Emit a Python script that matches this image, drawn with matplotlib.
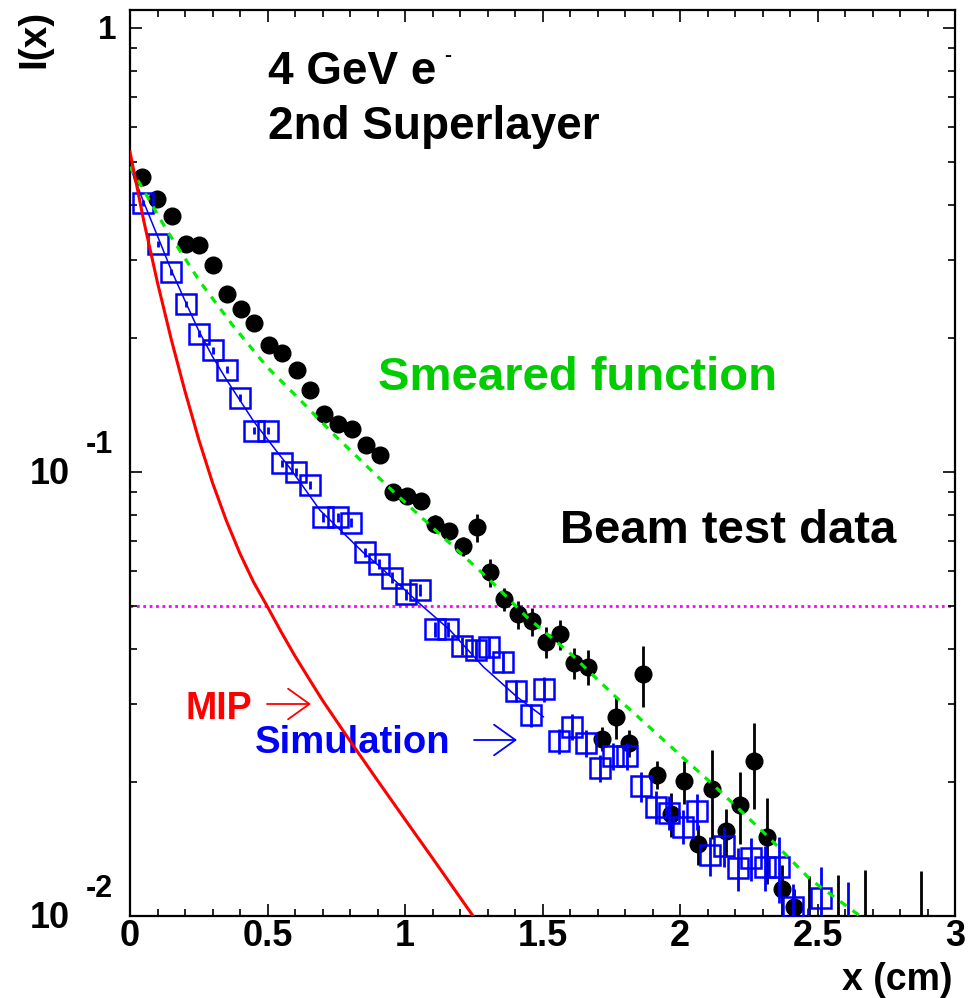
import matplotlib
matplotlib.use("Agg")
import matplotlib.pyplot as plt
import numpy as np
from matplotlib.ticker import MultipleLocator, LogLocator, NullFormatter

plt.rcParams["font.family"] = ["Liberation Sans", "DejaVu Sans"]
plt.rcParams["font.weight"] = "bold"

# beam test data (black dots)
beam_x = [0.045, 0.099, 0.152, 0.202, 0.252, 0.303, 0.352, 0.404, 0.452, 0.505,
          0.553, 0.606, 0.655, 0.706, 0.755, 0.806, 0.858, 0.908, 0.958, 1.008,
          1.058, 1.110, 1.160, 1.211, 1.261, 1.310, 1.360, 1.412, 1.461, 1.513,
          1.564, 1.615, 1.664, 1.717, 1.766, 1.816, 1.867, 1.915, 1.966, 2.016,
          2.067, 2.117, 2.167, 2.218, 2.269, 2.317, 2.370, 2.416, 2.468, 2.573,
          2.673, 2.876]
beam_y = [0.462, 0.413, 0.378, 0.326, 0.324, 0.292, 0.252, 0.233, 0.217, 0.193,
          0.185, 0.170, 0.153, 0.135, 0.128, 0.125, 0.115, 0.109, 0.0903, 0.0885,
          0.0861, 0.0765, 0.0737, 0.0681, 0.0750, 0.0594, 0.0518, 0.0478, 0.0461, 0.0415,
          0.0431, 0.0372, 0.0364, 0.0251, 0.0281, 0.0245, 0.0351, 0.0208, 0.0170, 0.0201,
          0.0145, 0.0193, 0.0155, 0.0178, 0.0223, 0.0151, 0.0115, 0.0105, 0.007, 0.007,
          0.007, 0.007]
beam_err = [0.009, 0.008, 0.0075, 0.0065, 0.0065, 0.006, 0.005, 0.0047, 0.0043, 0.0039,
            0.0037, 0.0034, 0.0031, 0.0028, 0.0027, 0.0026, 0.0025, 0.0024, 0.0024, 0.0023,
            0.0023, 0.0036, 0.0031, 0.0034, 0.0053, 0.0042, 0.0031, 0.0034, 0.0033, 0.0033,
            0.0034, 0.0030, 0.0033, 0.0016, 0.0031, 0.0017, 0.0055, 0.0015, 0.0019, 0.0022,
            0.0015, 0.0044, 0.0019, 0.0033, 0.0049, 0.0033, 0.0015, 0.0010, 0.0053, 0.0054,
            0.0057, 0.0056]

# simulation (blue open squares)
sim_x = [0.048, 0.103, 0.148, 0.202, 0.251, 0.303, 0.352, 0.400, 0.451, 0.503,
         0.552, 0.602, 0.655, 0.703, 0.755, 0.805, 0.855, 0.907, 0.954, 1.005,
         1.056, 1.109, 1.155, 1.208, 1.257, 1.307, 1.355, 1.402, 1.458, 1.505,
         1.560, 1.608, 1.657, 1.709, 1.758, 1.808, 1.858, 1.912, 1.960, 2.010,
         2.060, 2.109, 2.161, 2.210, 2.260, 2.309, 2.361, 2.412, 2.466, 2.511,
         2.610]
sim_y = [0.403, 0.326, 0.282, 0.239, 0.205, 0.188, 0.170, 0.147, 0.124, 0.124,
         0.1046, 0.1, 0.0936, 0.0790, 0.0790, 0.0769, 0.066, 0.0622, 0.0578, 0.0530,
         0.0542, 0.0442, 0.0442, 0.0406, 0.0397, 0.0404, 0.0373, 0.0322, 0.0284, 0.0324,
         0.0248, 0.0267, 0.0245, 0.0215, 0.0229, 0.0229, 0.0196, 0.0176, 0.0171, 0.0159,
         0.0172, 0.0137, 0.0144, 0.0128, 0.0135, 0.0129, 0.0129, 0.0105, 0.008, 0.0110,
         0.008]
sim_err = [0.006, 0.005, 0.0045, 0.004, 0.0035, 0.0033, 0.003, 0.0027, 0.0024, 0.0024,
           0.0021, 0.002, 0.0019, 0.0017, 0.0017, 0.0017, 0.0016, 0.0016, 0.0016, 0.0016,
           0.0017, 0.0017, 0.0018, 0.0019, 0.0022, 0.0022, 0.0021, 0.0018, 0.0017, 0.0021,
           0.0016, 0.0018, 0.0017, 0.0015, 0.0016, 0.0016, 0.0015, 0.0015, 0.0015, 0.0014,
           0.0016, 0.0014, 0.0015, 0.0014, 0.0015, 0.0015, 0.0022, 0.0013, 0.0024, 0.0019,
           0.0039]

# simulation fit (thin blue line)
fit_x = [0, 0.05, 0.1, 0.15, 0.2, 0.25, 0.3, 0.352, 0.4, 0.45, 0.545, 0.582,
         0.691, 0.848, 0.909, 1.055, 1.115, 1.164, 1.285, 1.406, 1.503]
fit_y = [0.487, 0.405, 0.34, 0.285, 0.243, 0.208, 0.182, 0.161, 0.145, 0.13, 0.109, 0.102,
         0.082, 0.0659, 0.0612, 0.0504, 0.0468, 0.044, 0.0364, 0.0312, 0.0281]

# smeared function (green dashed)
smear_x = [0, 0.133, 0.255, 0.376, 0.5, 0.62, 0.75, 0.958, 1.309, 1.442, 1.6,
           1.758, 1.842, 2.012, 2.115, 2.315, 2.473, 2.655]
smear_y = [0.487, 0.351, 0.268, 0.213, 0.172, 0.145, 0.12, 0.0903, 0.0571, 0.0472, 0.0391,
           0.0315, 0.0283, 0.0227, 0.0199, 0.0152, 0.0121, 0.0100]

# MIP (red solid)
mip_x = [0, 0.05, 0.1, 0.15, 0.2, 0.25, 0.3, 0.35, 0.4, 0.45, 0.5, 0.55, 0.6, 0.65,
         0.7, 0.8, 0.9, 1.0, 1.1, 1.25]
mip_y = [0.526, 0.368, 0.267, 0.199, 0.152, 0.1184, 0.0946, 0.0778, 0.0655, 0.0564,
         0.0497, 0.0436, 0.0385, 0.0343, 0.0306, 0.0248, 0.0202, 0.0165, 0.0135, 0.00995]

level = 0.05

W, H = 973, 998
fig = plt.figure(figsize=(W / 100, H / 100), dpi=100)
ax = fig.add_axes([130 / W, (H - 916) / H, 825 / W, 906 / H])


def fpos(px, py):
    return px / W, 1 - py / H


ax.errorbar(beam_x, beam_y, yerr=beam_err, fmt="o", color="black", ms=12,
            elinewidth=2, capsize=0, zorder=2)
ax.errorbar(sim_x, sim_y, yerr=sim_err, fmt="s", mfc="none", mec="#0000ff",
            ecolor="#0000ff", ms=14.5, mew=1.8, elinewidth=2, capsize=0, zorder=3)
ax.plot(fit_x, fit_y, color="#0000ff", lw=1.1, zorder=3)
ax.plot(smear_x, smear_y, color="#00ee00", lw=2.3, dashes=(2.4, 2.4), zorder=4)
ax.plot(mip_x, mip_y, color="#ff0000", lw=2.2, zorder=4)
ax.axhline(level, color="#ff00ff", lw=2, dashes=(1, 1.3), zorder=1)

ax.set_yscale("log")
ax.set_xlim(0, 3)
ax.set_ylim(0.01, 1.098)

ax.xaxis.set_minor_locator(MultipleLocator(0.1))
ax.yaxis.set_major_locator(LogLocator(base=10))
ax.yaxis.set_minor_locator(LogLocator(base=10, subs=np.arange(2, 10)))
ax.yaxis.set_major_formatter(NullFormatter())
ax.yaxis.set_minor_formatter(NullFormatter())
ax.set_xticks([0, 0.5, 1, 1.5, 2, 2.5, 3])
ax.set_xticklabels(["0", "0.5", "1", "1.5", "2", "2.5", "3"], fontsize=26,
                   fontweight="bold")

ax.tick_params(which="both", direction="in", top=True, right=True, width=1.2)
ax.tick_params(which="major", length=8.5, pad=2)
ax.tick_params(which="minor", length=5)
for s in ax.spines.values():
    s.set_linewidth(1.6)

# y tick labels in ROOT style
for val, exp in [(0.1, "-1"), (0.01, "-2")]:
    ax.annotate("10", xy=(0, val), xycoords=("axes fraction", "data"),
                xytext=(-43, -2), textcoords="offset points",
                ha="right", va="center", fontsize=26, fontweight="bold")
    ax.annotate(exp, xy=(0, val), xycoords=("axes fraction", "data"),
                xytext=(-32, 19.5), textcoords="offset points",
                ha="left", va="center", fontsize=22, fontweight="bold")
ax.annotate("1", xy=(0, 1), xycoords=("axes fraction", "data"),
            xytext=(-10, -1.5), textcoords="offset points",
            ha="right", va="center", fontsize=24, fontweight="bold")

fig.text(*fpos(34, 10), "I(x)", rotation=90, ha="center", va="top",
         fontsize=28, fontweight="bold")
fig.text(*fpos(953, 990), "x (cm)", ha="right", va="baseline",
         fontsize=27, fontweight="bold")

tr = fig.transFigure
ax.text(*fpos(268, 84), "4 GeV e", transform=tr, fontsize=33, va="baseline", zorder=1)
ax.text(*fpos(447.5, 55.5), "-", transform=tr, fontsize=15, ha="center",
        va="center", zorder=1)
ax.text(*fpos(268, 139), "2nd Superlayer", transform=tr, fontsize=33,
        va="baseline", zorder=1)
ax.text(*fpos(378, 390), "Smeared function", transform=tr, fontsize=34,
        color="#00cc00", va="baseline", zorder=1)
ax.text(*fpos(560, 543), "Beam test data", transform=tr, fontsize=34,
        color="black", va="baseline", zorder=1)
ax.text(*fpos(186, 719), "MIP", transform=tr, fontsize=27, color="#ff0000",
        va="baseline", zorder=1)
ax.text(*fpos(255, 753), "Simulation", transform=tr, fontsize=27.5,
        color="#0000ff", va="baseline", zorder=1)

for (x0, x1, y, c) in [(267, 311, 704, "#ff0000"), (474, 517, 740, "#0000ff")]:
    ax.annotate("", xy=fpos(x1, y), xytext=fpos(x0, y), xycoords=tr,
                textcoords=tr,
                arrowprops=dict(arrowstyle="->,head_length=0.7,head_width=0.5",
                                color=c, lw=1.3, shrinkA=0, shrinkB=0,
                                mutation_scale=22))

fig.savefig("out.png", dpi=100)
